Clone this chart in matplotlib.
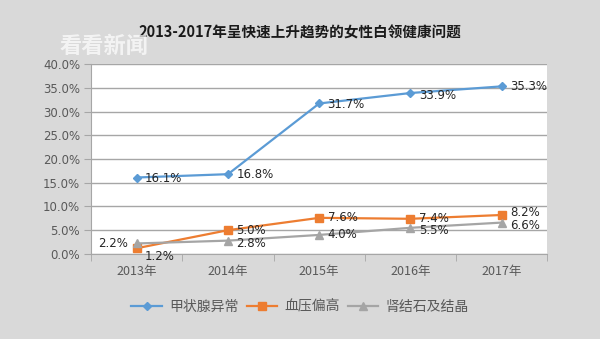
import matplotlib.pyplot as plt
from matplotlib.ticker import FixedLocator, FuncFormatter

plt.rcParams['font.family'] = ['Noto Sans CJK SC', 'DejaVu Sans']

years = ["2013年", "2014年", "2015年", "2016年", "2017年"]
thyroid = [16.1, 16.8, 31.7, 33.9, 35.3]
blood_pressure = [1.2, 5.0, 7.6, 7.4, 8.2]
kidney_stone = [2.2, 2.8, 4.0, 5.5, 6.6]

series_names = ["甲状腺异常", "血压偏高", "肾结石及结晶"]
colors = ["#5b9bd5", "#ed7d31", "#a5a5a5"]
markers = ["D", "s", "^"]
marker_sizes = [4.5, 6, 5.5]

# label offsets (points) per series, per year
offsets = [
    [(6, -1), (6, 0), (6, -1), (6, -2), (6, 0)],
    [(6, -6), (6, 0), (6, 0), (6, 0), (6, 2)],
    [(-6, 0), (6, -2), (6, 0), (6, -2), (6, -2)],
]
has = [["left"] * 5, ["left"] * 5, ["right", "left", "left", "left", "left"]]

fig = plt.figure(figsize=(6, 3.39), dpi=100)
fig.patch.set_facecolor("#d9d9d9")
ax = fig.add_axes([0.152, 0.251, 0.76, 0.56])
ax.set_facecolor("white")

x = list(range(len(years)))
for vals, name, c, m, ms, offs, ha in zip(
        [thyroid, blood_pressure, kidney_stone], series_names, colors,
        markers, marker_sizes, offsets, has):
    ax.plot(x, vals, color=c, marker=m, markersize=ms, linewidth=1.6,
            label=name, zorder=3)
    for xi, v, off, h in zip(x, vals, offs, ha):
        ax.annotate(f"{v:.1f}%", (xi, v), xytext=off, textcoords="offset points",
                    ha=h, va="center", fontsize=8.5, color="#262626",
                    family=["DejaVu Sans"], zorder=4)

ax.set_xlim(-0.5, 4.5)
ax.set_ylim(0, 40)
ax.set_yticks(range(0, 41, 5))
ax.yaxis.set_major_formatter(FuncFormatter(lambda v, p: f"{v:.1f}%"))
ax.grid(axis="y", color="#a6a6a6", linewidth=1)
ax.set_axisbelow(True)

ax.set_xticks(x)
ax.set_xticklabels(years)
ax.xaxis.set_minor_locator(FixedLocator([i - 0.5 for i in range(6)]))
ax.tick_params(axis="x", which="major", length=0, pad=8, labelsize=9,
               labelcolor="#595959")
ax.tick_params(axis="x", which="minor", length=5, color="#a6a6a6")
ax.tick_params(axis="y", length=5, color="#a6a6a6", labelsize=8.5,
               labelcolor="#595959", pad=3)
for lab in ax.get_yticklabels():
    lab.set_family(["DejaVu Sans"])

for side in ["top", "right"]:
    ax.spines[side].set_visible(False)
for side in ["left", "bottom"]:
    ax.spines[side].set_color("#a6a6a6")

fig.text(0.5, 0.903, "2013-2017年呈快速上升趋势的女性白领健康问题",
         ha="center", va="center", fontsize=10.5, fontweight="bold", color="#1a1a1a")
# site watermark
fig.text(0.1, 0.862, "看看新闻", ha="left", va="center", fontsize=16,
         fontweight="bold", color="white", alpha=0.7)

fig.legend(loc="center", bbox_to_anchor=(0.5, 0.095), ncol=3, frameon=False,
           fontsize=10, labelcolor="#595959", handlelength=2.2,
           columnspacing=0.6, handletextpad=0.5)

fig.savefig("out.png", dpi=100, facecolor=fig.get_facecolor())
